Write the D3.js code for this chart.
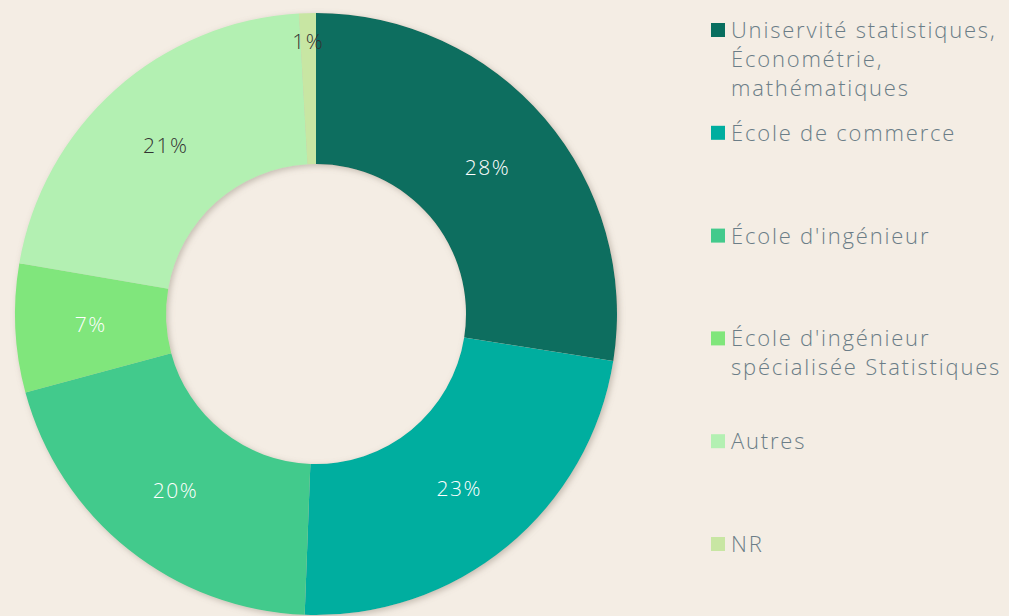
<!DOCTYPE html>
<html>
<head>
<meta charset="utf-8">
<script src="https://cdn.jsdelivr.net/npm/d3@7"></script>
<style>
    html, body { margin: 0; padding: 0; background: #f4ede4; }
    svg { display: block; font-family: 'Open Sans', 'Lato', sans-serif; }
</style>
</head>
<body>
<div id="chart"></div>
<script>
'use strict';

// Data
const categories = [
    ['Uniservité statistiques,', 'Économétrie,', 'mathématiques'],
    ['École de commerce'],
    ["École d'ingénieur"],
    ["École d'ingénieur", 'spécialisée Statistiques'],
    ['Autres'],
    ['NR']
];
const values = [27.5, 23.1, 20.2, 6.9, 21.4, 0.9];
const colors = ['#086e5f', '#00ae9f', '#43ca8c', '#80e67b', '#b3f0b2', '#c8e6a3'];
const labelColors = ['#ffffff', '#ffffff', '#ffffff', '#ffffff', '#333333', '#333333'];

// Configs
const svgW = 1009;
const svgH = 616;
const cx = 316;
const cy = 314;
const outerR = 301;
const innerR = 150;

const svg = d3.select('#chart')
    .append('svg')
    .attr('width', svgW)
    .attr('height', svgH);

svg.append('rect')
    .attr('width', svgW)
    .attr('height', svgH)
    .attr('fill', '#f4ede4');

// Shadow
const defs = svg.append('defs');
const shadow = defs.append('filter')
    .attr('id', 'shadow')
    .attr('x', '-10%').attr('y', '-10%')
    .attr('width', '120%').attr('height', '120%');
shadow.append('feDropShadow')
    .attr('dx', 2)
    .attr('dy', 2)
    .attr('stdDeviation', 3)
    .attr('flood-color', '#8a7f72')
    .attr('flood-opacity', 0.45);

const pie = d3.pie().sort(null).value(d => d);
const arc = d3.arc().innerRadius(innerR).outerRadius(outerR);
const arcs = pie(values);

const g = svg.append('g')
    .attr('transform', `translate(${cx},${cy})`);

g.append('g')
    .attr('filter', 'url(#shadow)')
    .selectAll('path')
    .data(arcs)
    .join('path')
    .attr('d', arc)
    .attr('fill', (d, i) => colors[i]);

// Labels
g.selectAll('.lbl')
    .data(arcs)
    .join('text')
    .attr('class', 'lbl')
    .attr('transform', d => {
        const small = d.endAngle - d.startAngle < 0.1;
        const r = small ? 272 : (innerR + outerR) / 2;
        const a = (d.startAngle + d.endAngle) / 2;
        return `translate(${r * Math.sin(a)},${-r * Math.cos(a)})`;
    })
    .attr('text-anchor', 'middle')
    .attr('dy', '0.35em')
    .attr('font-size', 21)
    .attr('font-weight', 300)
    .attr('letter-spacing', 1.5)
    .attr('fill', (d, i) => labelColors[i])
    .text(d => Math.round(d.data) + '%');

// Legend
const legY = d3.scaleLinear().domain([0, categories.length - 1]).range([23, 537]);
const leg = svg.append('g')
    .selectAll('g')
    .data(categories)
    .join('g')
    .attr('transform', (d, i) => `translate(711,${legY(i)})`);

leg.append('rect')
    .attr('width', 14)
    .attr('height', 14)
    .attr('fill', (d, i) => colors[i]);

leg.append('text')
    .attr('x', 20)
    .attr('y', 15)
    .attr('font-size', 22)
    .attr('font-weight', 300)
    .attr('letter-spacing', 1.8)
    .attr('fill', '#6b7d87')
    .selectAll('tspan')
    .data(d => d)
    .join('tspan')
    .attr('x', 20)
    .attr('dy', (d, i) => i === 0 ? 0 : 29)
    .text(d => d);
</script>
</body>
</html>
